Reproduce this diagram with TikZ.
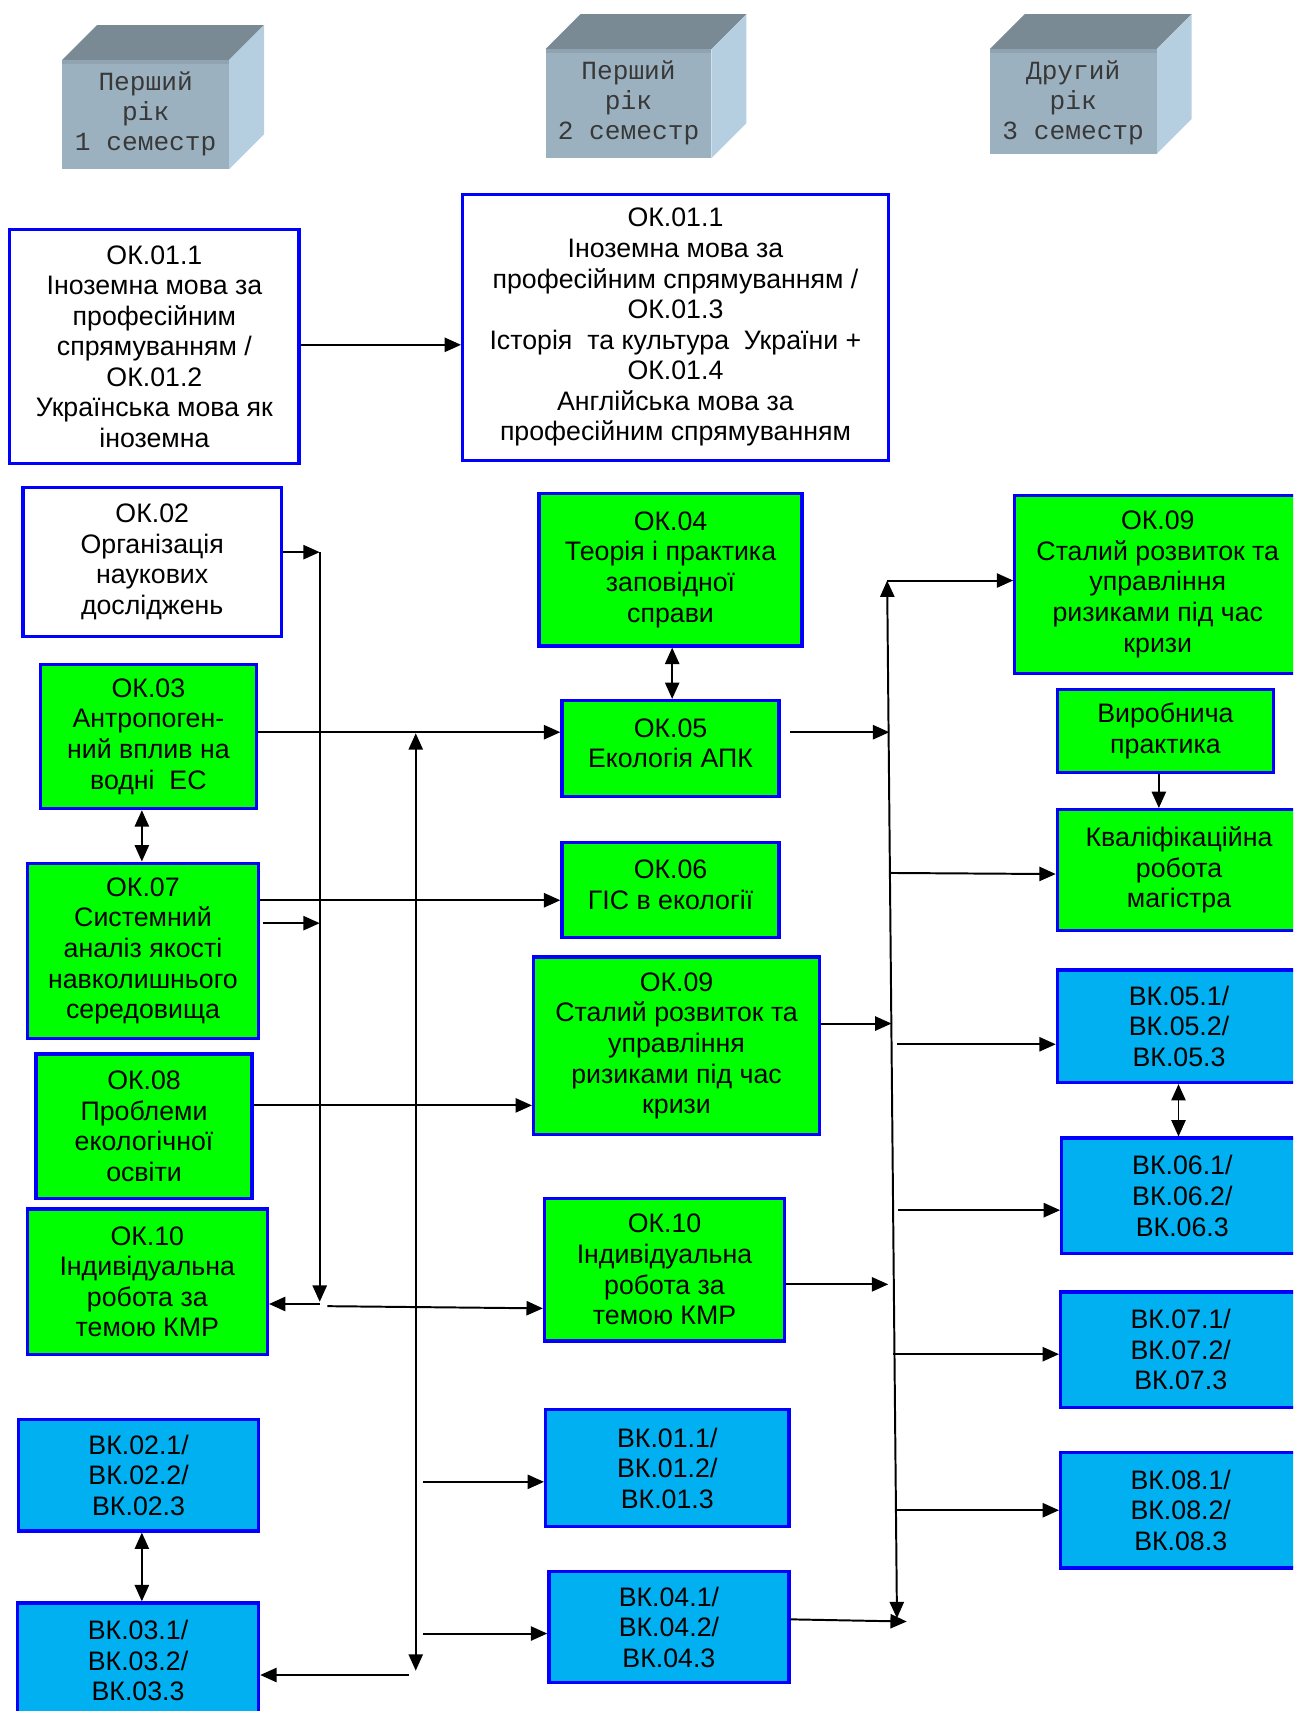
\documentclass[tikz,border=0pt]{standalone}
\usepackage{fontspec}
\setmainfont{Liberation Sans}
\newfontfamily\cubefont{Liberation Mono}
\usetikzlibrary{arrows.meta}
\definecolor{gfill}{HTML}{00FF00}
\definecolor{bfill}{HTML}{00B0F0}
\definecolor{bdr}{HTML}{0000FF}
\definecolor{cfront}{HTML}{9CB1BF}
\definecolor{cband}{HTML}{8FA3B0}
\definecolor{ctop}{HTML}{7A8A94}
\definecolor{cside}{HTML}{B5CFE1}
\begin{document}
\begin{tikzpicture}[x=1pt,y=-1pt,
 box/.style={draw=bdr, line width=3pt, rectangle, inner sep=0pt, align=center, font=\fontsize{24.5}{28}\selectfont},
 wbox/.style={box, fill=white},
 gbox/.style={box, fill=gfill},
 bbox/.style={box, fill=bfill},
 arr/.style={line width=1.8pt, -{Triangle[length=15pt,width=13pt]}},
 darr/.style={line width=1.8pt, {Triangle[length=15pt,width=13pt]}-{Triangle[length=15pt,width=13pt]}},
 cubetext/.style={font=\cubefont\fontsize{24}{27.5}\selectfont, text=black!78, align=center, inner sep=0pt}
]
\useasboundingbox (0,0) rectangle (1185,1568);
\clip (0,0) rectangle (1185,1568);

% ---------- cubes ----------
\foreach \xa/\xb/\yf/\yb/\nm in {57/210/55/155/cubeA, 500/652/45/145/cubeB, 907/1060/45/141/cubeC}{
  \fill[ctop] (\xa,\yf) -- (\xa+32,\yf-32) -- (\xb+32,\yf-32) -- (\xb,\yf) -- cycle;
  \fill[cside] (\xb,\yf) -- (\xb+32,\yf-32) -- (\xb+32,\yb-32) -- (\xb,\yb) -- cycle;
  \fill[cfront] (\xa,\yf) rectangle (\xb,\yb);
  \fill[cband] (\xa,\yf) rectangle (\xb,\yf+4);
}
\node[cubetext] (t1) at (133.5,104.5) {Перший\\рік\\1 семестр};
\node[cubetext] (t2) at (576,94) {Перший\\рік\\2 семестр};
\node[cubetext] (t3) at (983.5,94) {Другий\\рік\\3 семестр};

% ---------- left column ----------
\node[wbox, minimum width=265, minimum height=215] (A) at (141.5,317.5)
 {ОК.01.1\\Іноземна мова за\\професійним\\спрямуванням /\\ОК.01.2\\Українська мова як\\іноземна};
\node[wbox, minimum width=390, minimum height=244] (B) at (619,300)
 {ОК.01.1\\Іноземна мова за\\професійним спрямуванням /\\ОК.01.3\\Історія~ та культура~ України +\\ОК.01.4\\Англійська мова за\\професійним спрямуванням};
\node[wbox, minimum width=237, minimum height=136] (C) at (139.5,515)
 {ОК.02\\Організація\\наукових\\досліджень};
\node[gbox, minimum width=198, minimum height=132] (D) at (136,675)
 {ОК.03\\Антропоген-\\ний вплив на\\водні~ ЕС};
\node[gbox, minimum width=212, minimum height=161] (E) at (131,871.5)
 {ОК.07\\Системний\\аналіз якості\\навколишнього\\середовища};
\node[gbox, minimum width=198, minimum height=132] (F) at (132,1032)
 {ОК.08\\Проблеми\\екологічної\\освіти};
\node[gbox, minimum width=220, minimum height=133] (G) at (135,1174.5)
 {ОК.10\\Індивідуальна\\робота за\\темою КМР};
\node[bbox, minimum width=220, minimum height=102] (H) at (127,1352)
 {ВК.02.1/\\ВК.02.2/\\ВК.02.3};
\node[bbox, minimum width=221, minimum height=106] (I) at (126.5,1522)
 {ВК.03.1/\\ВК.03.2/\\ВК.03.3};

% ---------- middle column ----------
\node[gbox, minimum width=241, minimum height=140] (J) at (614.5,522)
 {ОК.04\\Теорія і практика\\заповідної\\справи};
\node[gbox, minimum width=199, minimum height=88] (K) at (614.5,686)
 {ОК.05\\Екологія АПК\\[-18pt]};
\node[gbox, minimum width=199, minimum height=87] (L) at (614.5,815.5)
 {ОК.06\\ГІС в екології\\[-18pt]};
\node[gbox, minimum width=262, minimum height=163] (M) at (620,958.5)
 {ОК.09\\Сталий розвиток та\\управління\\ризиками під час\\кризи};
\node[gbox, minimum width=220, minimum height=131] (N) at (609,1163.5)
 {ОК.10\\Індивідуальна\\робота за\\темою КМР};
\node[bbox, minimum width=223, minimum height=107] (O) at (611.5,1345.5)
 {ВК.01.1/\\ВК.01.2/\\ВК.01.3};
\node[bbox, minimum width=220, minimum height=102] (P) at (613,1491)
 {ВК.04.1/\\ВК.04.2/\\ВК.04.3};

% ---------- right column ----------
\node[gbox, minimum width=262, minimum height=163] (Q) at (1061,535.5)
 {ОК.09\\Сталий розвиток та\\управління\\ризиками під час\\кризи};
\node[gbox, minimum width=198, minimum height=76] (R) at (1068,670)
 {Виробнича\\практика};
\node[gbox, minimum width=223, minimum height=111] (S) at (1080.5,797.5)
 {Кваліфікаційна\\робота\\магістра};
\node[bbox, minimum width=223, minimum height=103] (T) at (1080.5,940.5)
 {ВК.05.1/\\ВК.05.2/\\ВК.05.3};
\node[bbox, minimum width=221, minimum height=106] (U) at (1083.5,1096)
 {ВК.06.1/\\ВК.06.2/\\ВК.06.3};
\node[bbox, minimum width=220, minimum height=106] (V) at (1082,1237)
 {ВК.07.1/\\ВК.07.2/\\ВК.07.3};
\node[bbox, minimum width=220, minimum height=106] (W) at (1082,1384)
 {ВК.08.1/\\ВК.08.2/\\ВК.08.3};

% ---------- coordinates ----------
\coordinate (v1t) at (293,506);
\coordinate (v1b) at (293,1193);
\coordinate (v1k) at (293,846);
\coordinate (v2t) at (381,672);
\coordinate (v2b) at (381,1531);
\coordinate (v3t) at (813,532);
\coordinate (v3b) at (822,1483);
\coordinate (yA) at (0,316);
\coordinate (yD) at (0,671);
\coordinate (yE) at (0,825);
\coordinate (yF) at (0,1013);
\coordinate (c6) at (241,846);
\coordinate (c8) at (388,1358);
\coordinate (c9) at (388,1497);
\coordinate (c10) at (375,1535);
\coordinate (h1) at (130,0);
\coordinate (h2) at (616,0);
\coordinate (h3) at (1062,0);
\coordinate (h4) at (1080,0);
\coordinate (k5s) at (724,671);
\coordinate (k5e) at (815,671);
\coordinate (c16) at (816,800);
\coordinate (c17) at (817,938);
\coordinate (c18) at (822,957);
\coordinate (c19) at (823,1109);
\coordinate (c20) at (814,1177);
\coordinate (c21) at (818,1241);
\coordinate (c22) at (821,1384);
\coordinate (c23) at (831,1486);
\coordinate (g1) at (293,1195);
\coordinate (g2) at (300,1197);

% ---------- connectors ----------
\draw[arr] (A.east |- yA) -- (B.west |- yA);
\draw[arr] (C.east |- v1t) -- (v1t);
\draw[arr] (v1t) -- (v1b);
\draw[arr] (D.east |- yD) -- (K.west |- yD);
\draw[darr] (v2t) -- (v2b);
\draw[arr] (E.east |- yE) -- (L.west |- yE);
\draw[arr] (c6) -- (v1k);
\draw[arr] (F.east |- yF) -- (M.west |- yF);
\draw[arr] (c8) -- (O.west |- c8);
\draw[arr] (c9) -- (P.west |- c9);
\draw[arr] (c10) -- (I.east |- c10);
\draw[darr] (D.south -| h1) -- (E.north -| h1);
\draw[darr] (H.south -| h1) -- (I.north -| h1);
\draw[darr] (J.south -| h2) -- (K.north -| h2);
\draw[arr] (g1) -- (G.east |- g1);
\draw[arr] (g2) -- (N.west |- 0,1199);

\draw[darr] (v3t) -- (v3b);
\draw[arr] (v3t) -- (Q.west |- v3t);
\draw[arr] (k5s) -- (k5e);
\draw[arr] (c16) -- (S.west |- 0,801);
\draw[arr] (M.east |- c17) -- (c17);
\draw[arr] (c18) -- (T.west |- c18);
\draw[arr] (c19) -- (U.west |- c19);
\draw[arr] (N.east |- c20) -- (c20);
\draw[arr] (c21) -- (V.west |- c21);
\draw[arr] (c22) -- (W.west |- c22);
\draw[arr] (P.east |- 0,1484) -- (c23);
\draw[arr] (R.south -| h3) -- (S.north -| h3);
\draw[darr] (T.south -| h4) -- (U.north -| h4);
\end{tikzpicture}
\end{document}
